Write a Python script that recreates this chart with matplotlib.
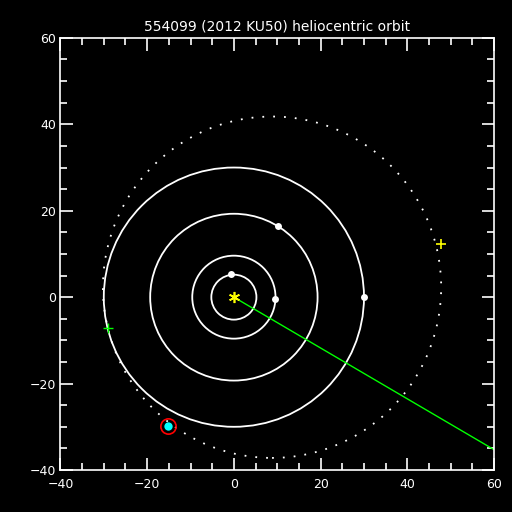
import numpy as np
import matplotlib
matplotlib.use("Agg")
import matplotlib.pyplot as plt
from matplotlib.patches import Circle, Ellipse
from matplotlib.ticker import MultipleLocator

# planets: orbit radius (AU) and current position
planet_names = ["Jupiter", "Saturn", "Uranus", "Neptune"]
planet_r = [5.2, 9.6, 19.3, 30.0]
planet_x = [-0.7, 9.4, 10.2, 30.0]
planet_y = [5.3, -0.4, 16.4, 0.0]

# object orbit (projected ellipse): centre, full width, full height
orbit_center = (8.8, 2.3)
orbit_width = 78.0
orbit_height = 79.0

# object position and markers
obj_x, obj_y = -15.2, -29.8
aph_x, aph_y = 47.7, 12.2      # yellow cross
peri_x, peri_y = -29.1, -7.1   # green cross
dir_x, dir_y = 60.0, -35.3     # green direction line end

fig = plt.figure(figsize=(5.12, 5.12), dpi=100, facecolor="black")
ax = fig.add_axes([0.118, 0.082, 0.847, 0.844], facecolor="black")

# planet orbits
for r in planet_r:
    ax.add_patch(Circle((0, 0), r, fill=False, ec="white", lw=1.3))

# object orbit, dotted
ax.add_patch(Ellipse(orbit_center, orbit_width, orbit_height, fill=False,
                     ec="white", lw=1.3, ls=(0, (1, 5))))

# direction line from the sun
ax.plot([0, dir_x], [0, dir_y], color="#00ff00", lw=1.0)

ax.plot(planet_x, planet_y, "o", color="white", ms=5, mec="none")
ax.plot(0, 0, marker=(6, 2, 0), color="yellow", ms=8, mew=1.2)
ax.plot(aph_x, aph_y, "+", color="yellow", ms=7, mew=1.2)
ax.plot(peri_x, peri_y, "+", color="#00ff00", ms=7, mew=1.0)
ax.plot(obj_x, obj_y, "o", color="cyan", ms=6, mec="none")
ax.plot(obj_x, obj_y, "o", mfc="none", mec="red", ms=11, mew=1.2)

ax.set_xlim(-40, 60)
ax.set_ylim(-40, 60)
ax.set_aspect("auto")
ax.xaxis.set_major_locator(MultipleLocator(20))
ax.yaxis.set_major_locator(MultipleLocator(20))
ax.xaxis.set_minor_locator(MultipleLocator(5))
ax.yaxis.set_minor_locator(MultipleLocator(5))

for s in ax.spines.values():
    s.set_color("white")
    s.set_linewidth(1.2)
ax.tick_params(which="both", direction="in", top=True, right=True,
               colors="white", labelsize=9, width=1.2)
ax.tick_params(which="major", length=9)
ax.tick_params(which="minor", length=5)
ax.tick_params(axis="x", pad=6)
ax.tick_params(axis="y", pad=3)

ax.set_title("554099 (2012 KU50) heliocentric orbit", color="white",
             fontsize=10, pad=5)

fig.savefig("out.png", dpi=100, facecolor="black")
